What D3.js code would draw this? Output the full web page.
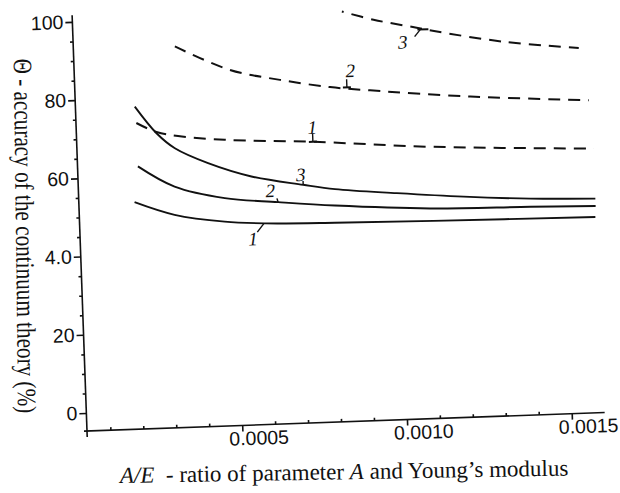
<!DOCTYPE html>
<html>
<head>
<meta charset="utf-8">
<script src="https://cdn.jsdelivr.net/npm/d3@7"></script>
<style>
  body { margin: 0; background: #fff; }
  .tick text { font-family: 'Liberation Sans', Arial, sans-serif; font-size: 19.5px; fill: #111; }
  .tick line, .axis-line { stroke: #111; stroke-width: 1.6; }
</style>
</head>
<body>
<svg></svg>
<script>
let width = 620;
let height = 493;
let plotW = 518;
let plotH = 416;

// A/E values and accuracy (%)
let solid1X = [0.000198, 0.000318, 0.000469, 0.000591, 0.000803, 0.001102, 0.001593];
let solid1Y = [53.4, 49.8, 47.6, 46.8, 46.3, 45.9, 45.4];
let solid2X = [0.000212, 0.000321, 0.000472, 0.000633, 0.000805, 0.001093, 0.001397, 0.001595];
let solid2Y = [62.5, 57.0, 53.6, 52.1, 50.7, 49.1, 48.6, 48.2];
let solid3X = [0.000209, 0.000272, 0.000326, 0.000425, 0.000555, 0.000711, 0.000807, 0.000994, 0.001196, 0.001398, 0.001595];
let solid3Y = [77.8, 70.8, 66.8, 62.7, 58.9, 56.3, 54.9, 53.3, 51.8, 50.7, 50.1];

let dashed1X = [0.000212, 0.000272, 0.000337, 0.000478, 0.000742, 0.001109, 0.001596];
let dashed1Y = [73.6, 71.1, 69.9, 68.5, 67.2, 64.8, 62.9];
let dashed2X = [0.000337, 0.000501, 0.000652, 0.000803, 0.000924, 0.001227, 0.001586];
let dashed2Y = [92.8, 86.3, 83.3, 81.0, 79.8, 77.3, 75.3];
let dashed3X = [0.000847, 0.000942, 0.001043, 0.001133, 0.001334, 0.001561];
let dashed3Y = [100.2, 97.8, 95.9, 94.2, 91.0, 88.7];

let xTickValues = [0.0005, 0.0010, 0.0015];
let xTickLabels = ['0.0005', '0.0010', '0.0015'];
let yTickValues = [0, 20, 40, 60, 80, 100];
let yTickLabels = ['0', '20', '4.0', '60', '80', '100'];

// curve numbers and the point on the curve they point at
let labelText = ['1', '2', '3', '1', '2', '3'];
let labelAtX = [0.000745, 0.000854, 0.001083, 0.000588, 0.000633, 0.000711];
let labelAtY = [67.2, 80.8, 94.9, 46.8, 52.06, 56.25];

let svg = d3.select('svg')
            .attr('width', width)
            .attr('height', height);

svg.append('rect')
   .attr('width', width)
   .attr('height', height)
   .attr('fill', '#fff');

let x = d3.scaleLinear().domain([0.000029, 0.0016]).range([0, plotW]);
let y = d3.scaleLinear().domain([-4.6, 101.7]).range([plotH, 0]);

// the original page is scanned a little crooked, so tilt the plot with it
let g = svg.append('g')
           .attr('transform', 'translate(87,431) rotate(-2.05) translate(0,' + (-plotH) + ')');

// axes
let xAxis = g.append('g')
             .attr('transform', 'translate(0,' + plotH + ')')
             .call(d3.axisBottom(x)
                     .tickValues(xTickValues)
                     .tickSize(6)
                     .tickSizeOuter(0)
                     .tickFormat((d, i) => xTickLabels[i]));
xAxis.select('.domain').remove();
xAxis.selectAll('text').attr('x', 16).attr('y', 6);

let xMinor = d3.range(1, 16).map(i => i * 0.0001).filter(v => Math.abs(v * 10000 % 5) > 0.01);
g.append('g')
 .attr('transform', 'translate(0,' + plotH + ')')
 .call(d3.axisTop(x).tickValues(xMinor).tickSize(3).tickSizeOuter(0).tickFormat(''))
 .select('.domain').remove();

let yAxis = g.append('g')
             .call(d3.axisLeft(y)
                     .tickValues(yTickValues)
                     .tickSize(7)
                     .tickPadding(2)
                     .tickSizeOuter(0)
                     .tickFormat((d, i) => yTickLabels[i]));
yAxis.select('.domain').remove();

let yMinor = d3.range(5, 100, 5).filter(v => v % 20 != 0);
g.append('g')
 .call(d3.axisLeft(y).tickValues(yMinor).tickSize(3).tickSizeOuter(0).tickFormat(''))
 .select('.domain').remove();

g.append('line').attr('class', 'axis-line')
 .attr('x1', -3).attr('x2', plotW)
 .attr('y1', plotH).attr('y2', plotH);
g.append('line').attr('class', 'axis-line')
 .attr('x1', 0).attr('x2', 0)
 .attr('y1', 0).attr('y2', plotH + 6);

// curves
let line = d3.line()
             .x(d => x(d[0]))
             .y(d => y(d[1]))
             .curve(d3.curveCatmullRom.alpha(0.5));

let curves = [
  {xs: solid1X, ys: solid1Y, dash: null, offset: 0},
  {xs: solid2X, ys: solid2Y, dash: null, offset: 0},
  {xs: solid3X, ys: solid3Y, dash: null, offset: 0},
  {xs: dashed1X, ys: dashed1Y, dash: '12,8', offset: 0},
  {xs: dashed2X, ys: dashed2Y, dash: '12,8', offset: 0},
  {xs: dashed3X, ys: dashed3Y, dash: '12,8', offset: 10}
];

g.selectAll('path.curve')
 .data(curves)
 .enter()
 .append('path')
 .attr('class', 'curve')
 .attr('d', d => line(d3.zip(d.xs, d.ys)))
 .attr('fill', 'none')
 .attr('stroke', '#111')
 .attr('stroke-width', d => d.dash ? 2 : 1.9)
 .attr('stroke-dasharray', d => d.dash)
 .attr('stroke-dashoffset', d => d.offset);

// little leaders from the numbers to the curves (pixel offsets)
let labelLayout = [
  {tx: 0, ty: -8, lead: [[0, 0], [0, -8]], bar: [-4, 4]},
  {tx: 4, ty: -10, lead: [[0, 0], [0, -8]], bar: [-4, 4]},
  {tx: -18, ty: 18.5, lead: [[0, 0], [-6, 7]], bar: [-3, 8]},
  {tx: -11.5, ty: 21.5, lead: [[0, 0], [-7, 8.5]], bar: null},
  {tx: -7.5, ty: -5.5, lead: [[0, 0], [-1, -4]], bar: null},
  {tx: -2, ty: -4, lead: [[0, 0], [0, -4]], bar: null}
];

labelText.forEach(function(t, i) {
  let px = x(labelAtX[i]);
  let py = y(labelAtY[i]);
  let lay = labelLayout[i];
  let lg = g.append('g').attr('transform', 'translate(' + px + ',' + py + ')');
  lg.append('line')
    .attr('x1', lay.lead[0][0]).attr('y1', lay.lead[0][1])
    .attr('x2', lay.lead[1][0]).attr('y2', lay.lead[1][1])
    .attr('stroke', '#111').attr('stroke-width', 1.4);
  if (lay.bar) {
    lg.append('line')
      .attr('x1', lay.bar[0]).attr('x2', lay.bar[1])
      .attr('y1', 0).attr('y2', 0)
      .attr('stroke', '#111').attr('stroke-width', 2);
  }
  lg.append('text')
    .attr('x', lay.tx).attr('y', lay.ty)
    .attr('text-anchor', 'middle')
    .attr('font-family', "'Liberation Serif', 'Times New Roman', serif")
    .attr('font-style', 'italic')
    .attr('font-size', 19)
    .attr('fill', '#111')
    .text(t);
});

// axis titles (the y title reads top to bottom in the original)
svg.append('text')
   .attr('transform', 'translate(16,236) rotate(89.3) scale(1,1.25)')
   .attr('text-anchor', 'middle')
   .attr('font-family', "'Liberation Serif', 'Times New Roman', serif")
   .attr('font-size', 21.2)
   .attr('fill', '#111')
   .text('\u0398 - accuracy of the continuum theory (%)');

let xTitle = svg.append('text')
                .attr('x', 120)
                .attr('y', 483)
                .attr('transform', 'rotate(-0.95,120,483)')
                .attr('font-family', "'Liberation Serif', 'Times New Roman', serif")
                .attr('font-size', 23)
                .attr('fill', '#111');
xTitle.append('tspan').attr('font-style', 'italic').text('A/E');
xTitle.append('tspan').text('\u00a0 - ratio of parameter ');
xTitle.append('tspan').attr('font-style', 'italic').text('A');
xTitle.append('tspan').text(' and Young\u2019s modulus');
</script>
</body>
</html>
